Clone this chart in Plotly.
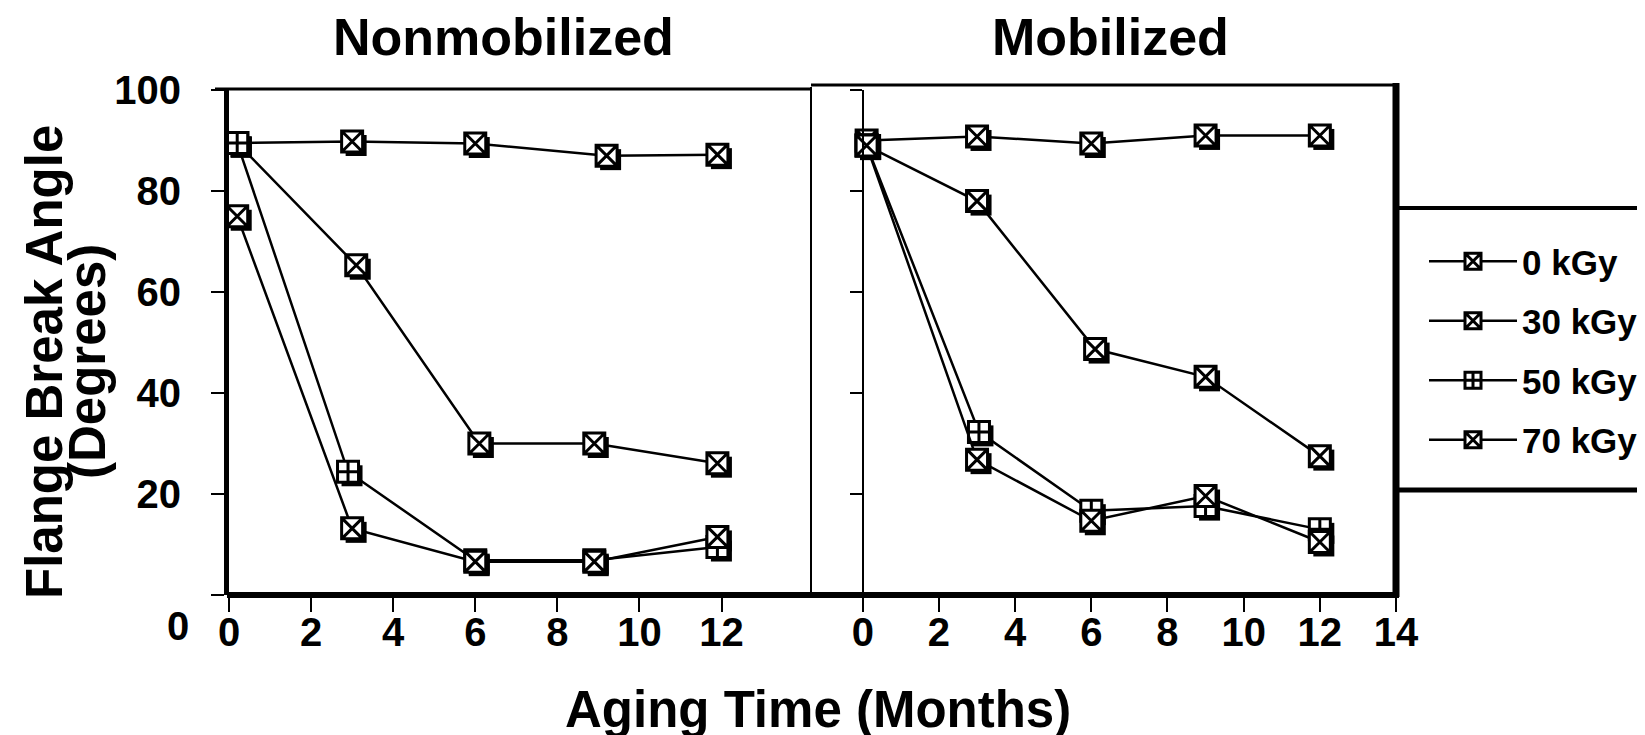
import plotly.graph_objects as go

W, H = 1645, 735

series = ["0 kGy", "30 kGy", "50 kGy", "70 kGy"]
symbols = ["square-x", "square-x", "square-cross", "square-x"]

# Nonmobilized (left panel): aging time (months) and flange break angle (degrees)
left_x = {
    "0 kGy":  [0.2, 3.0, 6.0, 9.2, 11.9],
    "30 kGy": [0.2, 3.1, 6.1, 8.9, 11.9],
    "50 kGy": [0.2, 2.9, 6.0, 8.9, 11.9],
    "70 kGy": [0.2, 3.0, 6.0, 8.9, 11.9],
}
left_y = {
    "0 kGy":  [89.5, 89.8, 89.4, 87.0, 87.2],
    "30 kGy": [89.5, 65.3, 30.0, 30.0, 26.1],
    "50 kGy": [89.5, 24.4, 6.9, 6.9, 9.5],
    "70 kGy": [75.0, 13.2, 6.6, 6.6, 11.5],
}
# Mobilized (right panel)
right_x = {
    "0 kGy":  [0.1, 3.0, 6.0, 9.0, 12.0],
    "30 kGy": [0.1, 3.0, 6.1, 9.0, 12.0],
    "50 kGy": [0.1, 3.05, 6.0, 9.0, 12.0],
    "70 kGy": [0.1, 3.0, 6.0, 9.0, 12.0],
}
right_y = {
    "0 kGy":  [90.0, 90.8, 89.4, 91.0, 91.0],
    "30 kGy": [89.0, 78.0, 48.7, 43.2, 27.5],
    "50 kGy": [89.0, 32.3, 16.7, 17.6, 13.0],
    "70 kGy": [89.0, 26.8, 14.7, 19.6, 10.5],
}

left_xticks = [0, 2, 4, 6, 8, 10, 12]
right_xticks = [0, 2, 4, 6, 8, 10, 12, 14]
y_ticks = [0, 20, 40, 60, 80, 100]
y_ticktext = ["", "20", "40", "60", "80", "100"]

FONT = "Liberation Sans, Arial, Helvetica, sans-serif"

# the page body adds an 8px margin around the figure; compensate for it
OX, OY = 8, 8


def px(x):
    return (x - OX) / W


def py(y):
    return 1 - (y - OY) / H


# plot-area geometry (target pixels in the window)
L0, L1 = 229, 811       # left panel x extent
R0, R1 = 811, 1396      # right panel x extent
Y0, Y1 = 595, 90        # y=0 and y=100 pixel rows
SH = 4                  # marker shadow offset in px

fig = go.Figure()

# shadows (drawn first, on offset hidden axes)
for s in series:
    fig.add_trace(go.Scatter(x=left_x[s], y=left_y[s], mode="markers", xaxis="x", yaxis="y",
                             marker=dict(symbol="square", size=21, color="black"),
                             showlegend=False, hoverinfo="skip", cliponaxis=False))
    fig.add_trace(go.Scatter(x=right_x[s], y=right_y[s], mode="markers", xaxis="x2", yaxis="y2",
                             marker=dict(symbol="square", size=21, color="black"),
                             showlegend=False, hoverinfo="skip", cliponaxis=False))

for s, sym in zip(series, symbols):
    mk = dict(symbol=sym, size=21, color="white", line=dict(color="black", width=3))
    fig.add_trace(go.Scatter(x=left_x[s], y=left_y[s], mode="lines+markers", name=s,
                             xaxis="x3", yaxis="y3", legendgroup=s,
                             line=dict(color="black", width=2.5), marker=mk, cliponaxis=False))
    fig.add_trace(go.Scatter(x=right_x[s], y=right_y[s], mode="lines+markers", name=s,
                             xaxis="x4", yaxis="y4", legendgroup=s, showlegend=False,
                             line=dict(color="black", width=2.5), marker=mk, cliponaxis=False))

hidden = dict(visible=False, showgrid=False, zeroline=False, fixedrange=True)
tickfont = dict(family=FONT, size=40, color="black", weight="bold")

fig.update_layout(
    width=W, height=H,
    margin=dict(l=0, r=0, t=0, b=0, pad=0, autoexpand=False),
    paper_bgcolor="white", plot_bgcolor="rgba(0,0,0,0)",
    xaxis=dict(domain=[px(L0 + SH), px(L1 + SH)], range=[0, 14.18], anchor="y", **hidden),
    yaxis=dict(domain=[py(Y0 + SH), py(Y1 + SH)], range=[0, 100], anchor="x", **hidden),
    xaxis2=dict(domain=[px(R0 + SH), px(R1 + SH)], range=[-1.36, 14], anchor="y2", **hidden),
    yaxis2=dict(domain=[py(Y0 + SH), py(Y1 + SH)], range=[0, 100], anchor="x2", **hidden),
    xaxis3=dict(domain=[px(L0), px(L1)], range=[0, 14.18], anchor="y3",
                tickmode="array", tickvals=left_xticks, ticks="outside", ticklen=16, tickwidth=2,
                tickcolor="black", showline=False, showgrid=False, zeroline=False,
                tickfont=tickfont, automargin=False, ticklabelstandoff=-14),
    yaxis3=dict(domain=[py(Y0), py(Y1)], range=[0, 100], anchor="x3",
                tickmode="array", tickvals=y_ticks, ticktext=y_ticktext,
                ticks="outside", ticklen=13, tickwidth=2,
                tickcolor="black", showline=True, linewidth=5, linecolor="black",
                showgrid=False, zeroline=False, automargin=False, ticklabelstandoff=22,
                tickfont=tickfont),
    xaxis4=dict(domain=[px(R0), px(R1)], range=[-1.36, 14], anchor="y4",
                tickmode="array", tickvals=right_xticks, ticks="outside", ticklen=16, tickwidth=2,
                tickcolor="black", showline=False, showgrid=False, zeroline=False,
                tickfont=tickfont, automargin=False, ticklabelstandoff=-14),
    yaxis4=dict(domain=[py(Y0), py(Y1)], range=[0, 100], anchor="free", position=px(863),
                tickmode="array", tickvals=y_ticks[1:], ticks="outside", ticklen=12, tickwidth=2,
                tickcolor="black", showline=True, linewidth=2, linecolor="black",
                showticklabels=False, showgrid=False, zeroline=False, automargin=False),
    legend=dict(x=px(1424), y=py(232), xanchor="left", yanchor="top", itemwidth=88,
                bgcolor="rgba(0,0,0,0)", traceorder="grouped", tracegroupgap=11,
                font=dict(family=FONT, size=35, color="black", weight="bold")),
    showlegend=True,
)

shapes = [
    # left panel top border
    dict(x0=px(215), x1=px(L1), y0=py(89), y1=py(89), width=3),
    # divider between panels
    dict(x0=px(L1), x1=px(L1), y0=py(87), y1=py(Y0), width=2),
    # right panel top border
    dict(x0=px(L1), x1=px(R1), y0=py(85), y1=py(85), width=3),
    # right border / legend left border
    dict(x0=px(R1), x1=px(R1), y0=py(83), y1=py(Y0 + 2), width=7),
    # legend top / bottom
    dict(x0=px(R1), x1=px(1660), y0=py(208), y1=py(208), width=4),
    dict(x0=px(R1), x1=px(1660), y0=py(490), y1=py(490), width=5),
    # bottom thick baseline
    dict(x0=px(L0 - 2), x1=px(R1 + 3), y0=py(Y0), y1=py(Y0), width=6),
]
fig.update_layout(shapes=[dict(type="line", xref="paper", yref="paper",
                               x0=s["x0"], x1=s["x1"], y0=s["y0"], y1=s["y1"],
                               line=dict(color="black", width=s["width"])) for s in shapes])

big = dict(family=FONT, size=52, color="black", weight="bold")
axt = dict(family=FONT, size=51, color="black", weight="bold")
ann = [
    dict(text="Nonmobilized", x=px(503), y=py(37), font=big),
    dict(text="Mobilized", x=px(1110), y=py(37), font=big),
    dict(text="Aging Time (Months)", x=px(818), y=py(709), font=axt),
    dict(text="Flange Break Angle", x=px(44), y=py(362), font=axt, textangle=-90),
    dict(text="(Degrees)", x=px(87), y=py(362), font=axt, textangle=-90),
    dict(text="0", x=px(178), y=py(626), font=tickfont),
]
fig.update_layout(annotations=[dict(xref="paper", yref="paper", showarrow=False,
                                    xanchor="center", yanchor="middle", **a) for a in ann])

fig.write_html("out.html")
